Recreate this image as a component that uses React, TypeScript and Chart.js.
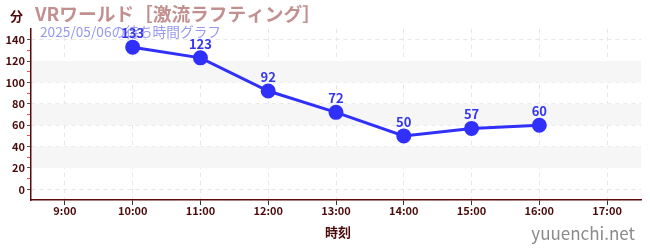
import React, { useEffect, useRef } from "react";
import { Chart, registerables } from "chart.js";
Chart.register(...registerables);

const categories = ["9:00", "10:00", "11:00", "12:00", "13:00", "14:00", "15:00", "16:00", "17:00"];
const waitTimes: (number | null)[] = [null, 133, 123, 92, 72, 50, 57, 60, null];
const titleText = "VRワールド［激流ラフティング］";
const subtitleText = "2025/05/06の待ち時間グラフ";
const yUnit = "分";
const xTitle = "時刻";
const watermark = "yuuenchi.net";
const bandRanges: [number, number][] = [[20, 40], [60, 80], [100, 120]];

const FONT = "'Noto Sans CJK JP', 'Noto Sans', sans-serif";
const DARK = "#4d0a0a";

export default function App() {
  const ref = useRef<HTMLCanvasElement>(null);
  useEffect(() => {
    document.body.style.margin = "0";
    const ctx = ref.current!.getContext("2d")!;
    const deco = {
      id: "deco",
      beforeDatasetsDraw(chart: any) {
        const { ctx, chartArea, scales } = chart;
        ctx.save();
        ctx.fillStyle = "#f6f6f6";
        for (const [a, b] of bandRanges) {
          const y1 = scales.y.getPixelForValue(b);
          const y2 = scales.y.getPixelForValue(a);
          ctx.fillRect(chartArea.left + 1, y1, chartArea.right - chartArea.left - 1, y2 - y1);
        }
        ctx.restore();
      },
      afterDraw(chart: any) {
        const { ctx, scales } = chart;
        ctx.save();
        ctx.textBaseline = "middle";
        ctx.textAlign = "left";
        ctx.fillStyle = DARK;
        ctx.font = `bold 13px ${FONT}`;
        ctx.fillText(yUnit, 10, 16);
        ctx.fillStyle = "#c39090";
        ctx.font = `bold 18.7px ${FONT}`;
        ctx.fillText(titleText, 35, 14);
        ctx.fillStyle = "#9898f2";
        ctx.font = `13.7px ${FONT}`;
        ctx.fillText(subtitleText, 40, 32);
        ctx.fillStyle = "#3535f0";
        ctx.font = `bold 13px ${FONT}`;
        ctx.textAlign = "center";
        waitTimes.forEach((v, i) => {
          if (v == null) return;
          const x = scales.x.getPixelForValue(i);
          const y = scales.y.getPixelForValue(v);
          ctx.fillText(String(v), x, y - 14);
        });
        ctx.fillStyle = DARK;
        ctx.font = `bold 13px ${FONT}`;
        ctx.fillText(xTitle, 338, 232);
        ctx.fillStyle = "#8a8a8a";
        ctx.font = `17px ${FONT}`;
        ctx.textAlign = "right";
        ctx.fillText(watermark, 635, 234);
        ctx.restore();
      },
    };
    const chart = new Chart(ctx, {
      type: "line",
      data: {
        labels: categories,
        datasets: [
          {
            data: waitTimes,
            borderColor: "#3030fa",
            backgroundColor: "#3030fa",
            borderWidth: 3,
            pointRadius: 6,
            pointHoverRadius: 6,
            spanGaps: false,
          },
        ],
      },
      options: {
        animation: false,
        responsive: false,
        layout: { padding: { top: 29, right: 9, left: 0, bottom: 0 } },
        plugins: { legend: { display: false }, tooltip: { enabled: false } },
        scales: {
          x: {
            offset: true,
            grid: {
              offset: false,
              color: "#e6e6e6",
              tickColor: "#333",
              tickLength: 5,
            },
            border: { color: "#5a0a0a", width: 1.5, dash: [4, 4] },
            ticks: {
              color: DARK,
              font: { family: FONT, size: 11, weight: "bold" },
              padding: -1,
              autoSkip: false,
              maxRotation: 0,
            },
            afterFit(scale: any) {
              scale.height = 50;
            },
          },
          y: {
            min: -10,
            max: 150,
            grid: {
              color: (c: any) => (c.tick && c.tick.value % 20 === 0 && c.tick.value >= 0 ? "#e6e6e6" : "transparent"),
              tickColor: (c: any) =>
                c.tick && c.tick.value % 20 === 0 && c.tick.value >= 0
                  ? "#555"
                  : c.tick && c.tick.value > 0 && c.tick.value < 150
                  ? "#f05050"
                  : "transparent",
              tickLength: 4,
            },
            border: { color: "#5a0a0a", width: 1.5, dash: [4, 4] },
            ticks: {
              stepSize: 10,
              autoSkip: false,
              color: DARK,
              font: { family: FONT, size: 11, weight: "bold" },
              padding: 2,
              callback: (v: any) => (v % 20 === 0 && v >= 0 && v <= 140 ? String(v) : ""),
            },
            afterFit(scale: any) {
              scale.width = 31;
            },
          },
        },
      } as any,
      plugins: [deco],
    });
    return () => chart.destroy();
  }, []);
  return <canvas ref={ref} width={650} height={250} style={{ display: "block" }} />;
}
